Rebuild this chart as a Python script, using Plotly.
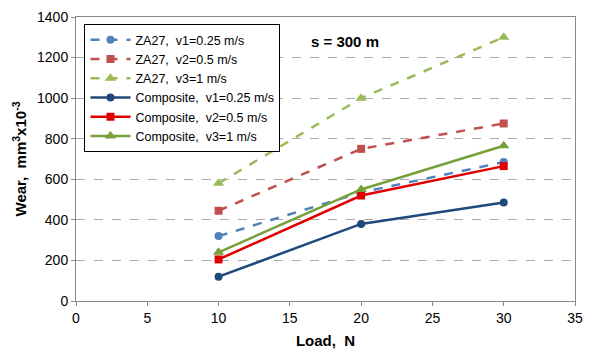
import plotly.graph_objects as go

load = [10, 20, 30]
za27_v1 = [320, 535, 685]
za27_v2 = [445, 750, 875]
za27_v3 = [580, 1000, 1300]
comp_v1 = [120, 380, 485]
comp_v2 = [205, 520, 665]
comp_v3 = [240, 550, 765]

series = [
    ("ZA27,  v1=0.25 m/s", za27_v1, "#4F81BD", "dash", "circle", 8),
    ("ZA27,  v2=0.5 m/s", za27_v2, "#C0504D", "dash", "square", 8),
    ("ZA27,  v3=1 m/s", za27_v3, "#9BBB59", "dash", "triangle-up", 10),
    ("Composite,  v1=0.25 m/s", comp_v1, "#1F497D", "solid", "circle", 8),
    ("Composite,  v2=0.5 m/s", comp_v2, "#E00000", "solid", "square", 8),
    ("Composite,  v3=1 m/s", comp_v3, "#77A03A", "solid", "triangle-up", 10),
]

fig = go.Figure()
for name, y, c, dash, sym, sz in series:
    fig.add_trace(go.Scatter(
        x=load, y=y, name=name, mode="lines+markers",
        line=dict(color=c, width=2.5, dash=dash),
        marker=dict(symbol=sym, size=sz, color=c),
    ))

fig.update_layout(
    width=592, height=363,
    margin=dict(l=76, r=9, t=11, b=62),
    paper_bgcolor="white", plot_bgcolor="white",
    font=dict(family="Liberation Sans, Arial, sans-serif", size=14, color="black"),
    showlegend=True,
    legend=dict(
        x=0.017, y=0.975, xanchor="left", yanchor="top",
        bordercolor="black", borderwidth=1, bgcolor="white",
        font=dict(size=12.5), tracegroupgap=0, itemwidth=40,
    ),
    xaxis=dict(
        range=[0, 35], dtick=5, showgrid=False,
        showline=True, linecolor="#888888", linewidth=1, mirror=True,
        ticks="outside", ticklen=4, tickcolor="#888888",
        title=dict(text="<b>Load,  N</b>", font=dict(size=15), standoff=10),
        zeroline=False,
    ),
    yaxis=dict(
        range=[0, 1400], dtick=200,
        showgrid=True, gridcolor="#AAAAAA", griddash="dash", gridwidth=1,
        showline=True, linecolor="#888888", linewidth=1, mirror=True,
        ticks="outside", ticklen=4, tickcolor="#888888",
        title=dict(text="<b>Wear,  mm<sup>3</sup>x10<sup>-3</sup></b>", font=dict(size=15), standoff=6),
        zeroline=False,
    ),
    annotations=[dict(
        x=0.54, y=0.915, xref="paper", yref="paper", xanchor="center", yanchor="middle",
        text="<b>s = 300 m</b>", showarrow=False, font=dict(size=15),
    )],
)

fig.write_html("out.html")
